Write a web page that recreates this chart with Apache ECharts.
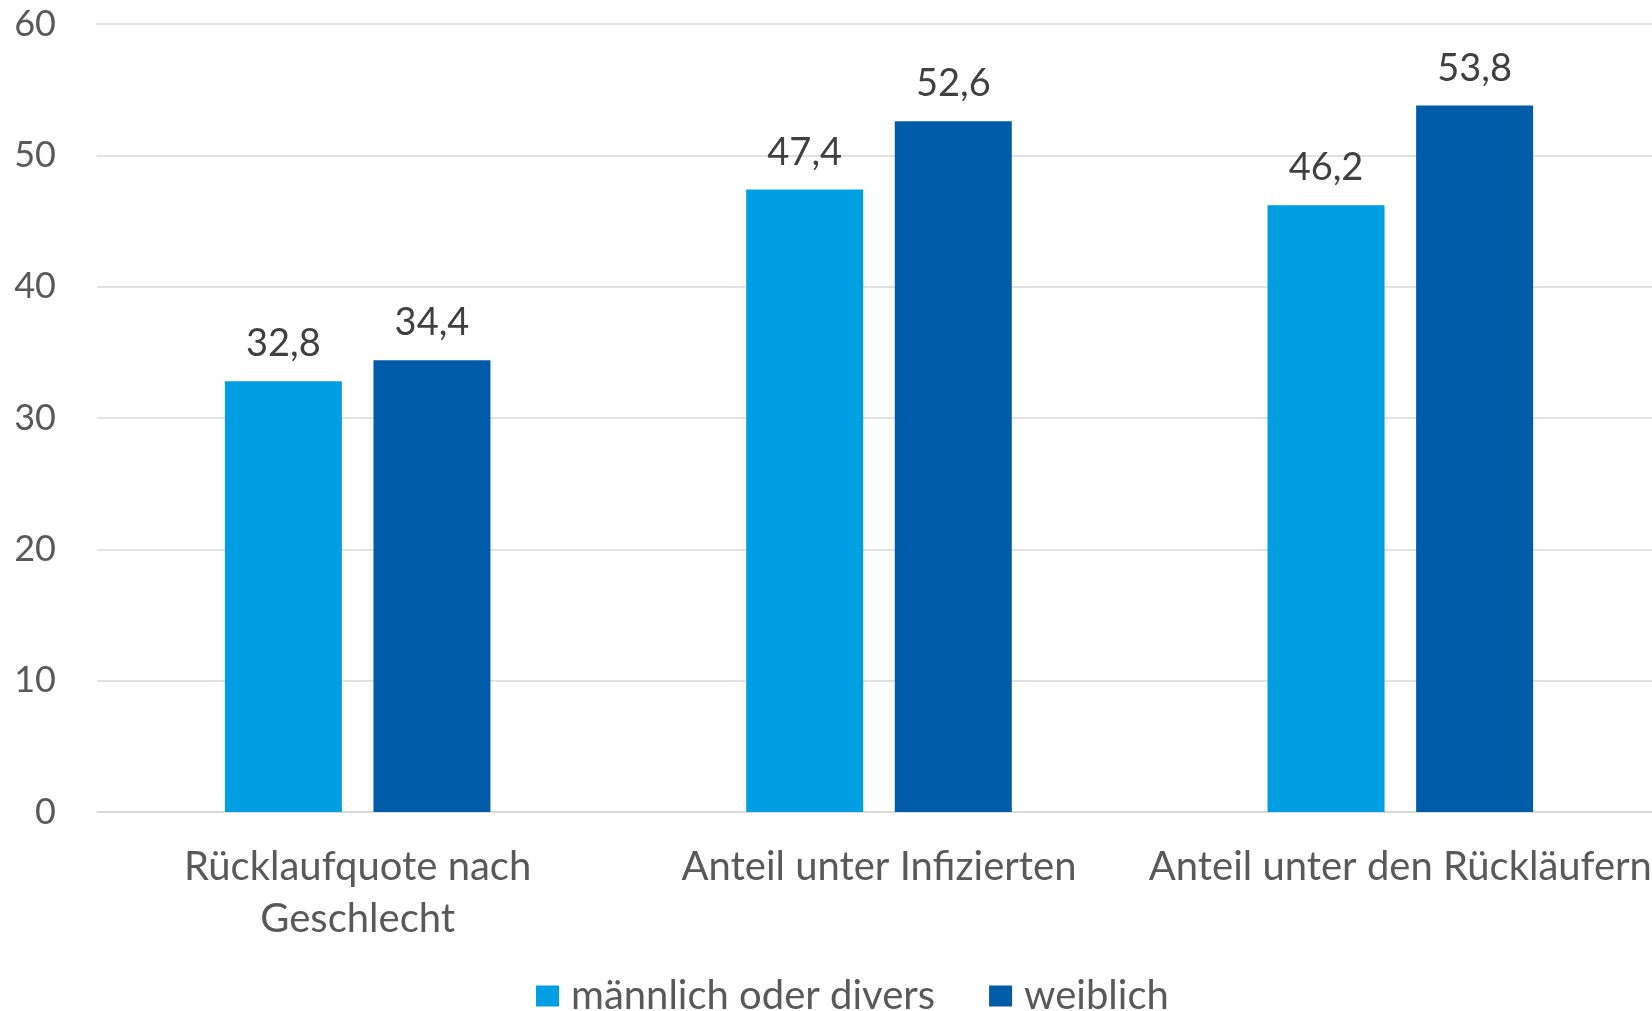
<!DOCTYPE html>
<html>
<head>
<meta charset="utf-8">
<script src="https://cdn.jsdelivr.net/npm/echarts@6/dist/echarts.min.js"></script>
<style>
html,body{margin:0;padding:0;background:#fff;}
#chart{width:1652px;height:1011px;}
</style>
</head>
<body>
<div id="chart"></div>
<script>
const categories = ['Rücklaufquote nach\nGeschlecht', 'Anteil unter Infizierten', 'Anteil unter den Rückläufern'];
const seriesNames = ['männlich oder divers', 'weiblich'];
const maleValues = [32.8, 47.4, 46.2];
const femaleValues = [34.4, 52.6, 53.8];
const colors = ['#009FE3', '#005CA9'];

const FONT = 'Lato';
const chart = echarts.init(document.getElementById('chart'), null, {renderer: 'canvas'});
const labelFmt = p => String(p.value.toFixed(1)).replace('.', ',');

chart.setOption({
  animation: false,
  textStyle: {fontFamily: FONT},
  grid: {left: 97, width: 1564, top: 24, height: 788, containLabel: false, outerBoundsMode: 'none'},
  legend: {
    left: 536, top: 976, padding: 0,
    itemWidth: 23, itemHeight: 21, itemGap: 54,
    icon: 'rect',
    textStyle: {fontFamily: FONT, fontSize: 40, color: '#595959', padding: [0, 0, 0, 7]},
    data: seriesNames
  },
  xAxis: {
    type: 'category',
    data: categories,
    axisTick: {show: false},
    axisLine: {show: true, lineStyle: {color: '#D9D9D9', width: 1.5}},
    axisLabel: {fontFamily: FONT, fontSize: 40, color: '#595959', margin: 29, lineHeight: 52, interval: 0}
  },
  yAxis: {
    type: 'value',
    min: 0, max: 60, interval: 10,
    axisLine: {show: false},
    axisTick: {show: false},
    splitLine: {lineStyle: {color: '#D9D9D9', width: 1.5}},
    axisLabel: {fontFamily: FONT, fontSize: 36, color: '#595959', margin: 41}
  },
  series: [
    {
      name: seriesNames[0], type: 'bar', data: maleValues,
      barWidth: 117, barGap: '27%',
      itemStyle: {color: colors[0]},
      label: {show: true, position: 'top', distance: 18, formatter: labelFmt,
              fontFamily: FONT, fontSize: 38, color: '#404040'}
    },
    {
      name: seriesNames[1], type: 'bar', data: femaleValues,
      barWidth: 117,
      itemStyle: {color: colors[1]},
      label: {show: true, position: 'top', distance: 18, formatter: labelFmt,
              fontFamily: FONT, fontSize: 38, color: '#404040'}
    }
  ]
});
</script>
</body>
</html>
